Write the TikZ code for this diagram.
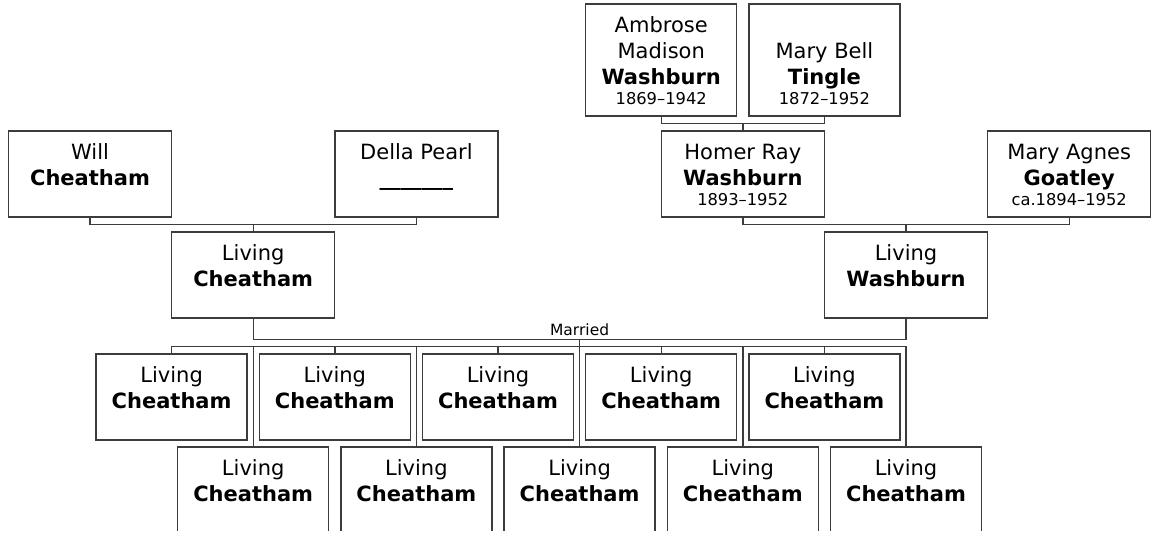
\documentclass[tikz,border=0pt]{standalone}
\usepackage{fontspec}
\setmainfont{DejaVu Sans}
\definecolor{linegray}{HTML}{3C3C3C}
\newcommand{\namefont}{\fontsize{21}{26}\selectfont}
\newcommand{\datefont}{\fontsize{16.3}{20}\selectfont}
\newcommand{\marriedfont}{\fontsize{15.5}{19}\selectfont}
\newcommand{\boxstrut}{\rule[-3pt]{0pt}{22pt}}
\newcommand{\surname}[1]{\boxstrut\textbf{#1}}
\newcommand{\lifespan}[1]{\boxstrut{\datefont #1}}

\begin{document}
\begin{tikzpicture}[x=1pt, y=-1pt, line width=1.4pt,
  person/.style={draw=linegray, fill=white, minimum width=163pt, minimum height=86pt,
    inner sep=0pt, align=center, font=\namefont},
  child/.style={person, minimum width=151pt},
  elder/.style={child, minimum height=112pt},
  link/.style={draw=linegray}]
  \useasboundingbox[fill=white] (0,0) rectangle (1154,533);
  \clip (0,0) rectangle (1154,530.5);

  % great-grandparents
  \node[elder] (ambrose) at (661.2,60) {\boxstrut Ambrose\\\boxstrut Madison\\\surname{Washburn}\\[-6pt]\lifespan{1869--1942}};
  \node[elder] (marybell) at (824.4,60) {\boxstrut\\\boxstrut Mary Bell\\\surname{Tingle}\\[-6pt]\lifespan{1872--1952}};

  % grandparents
  \node[person] (will) at (90,174) {\boxstrut Will\\\surname{Cheatham}\\[-6pt]\lifespan{}};
  \node[person] (della) at (416.4,174) {\boxstrut Della Pearl\\\surname{\_\_\_\_\_\_\_}\\[-6pt]\lifespan{}};
  \node[person] (homer) at (742.8,174) {\boxstrut Homer Ray\\\surname{Washburn}\\[-6pt]\lifespan{1893--1952}};
  \node[person] (agnes) at (1069.2,174) {\boxstrut Mary Agnes\\\surname{Goatley}\\[-6pt]\lifespan{ca.1894--1952}};

  % parents
  \node[person] (livc) at (253.2,275) {\boxstrut Living\\\surname{Cheatham}\\[-6pt]\lifespan{}};
  \node[person] (livw) at (906,275) {\boxstrut Living\\\surname{Washburn}\\[-6pt]\lifespan{}};

  % children
  \node[child] (child1) at (171.6,397) {\boxstrut Living\\\surname{Cheatham}\\[-6pt]\lifespan{}};
  \node[child] (child2) at (253.2,490) {\boxstrut Living\\\surname{Cheatham}\\[-6pt]\lifespan{}};
  \node[child] (child3) at (334.8,397) {\boxstrut Living\\\surname{Cheatham}\\[-6pt]\lifespan{}};
  \node[child] (child4) at (416.4,490) {\boxstrut Living\\\surname{Cheatham}\\[-6pt]\lifespan{}};
  \node[child] (child5) at (498,397) {\boxstrut Living\\\surname{Cheatham}\\[-6pt]\lifespan{}};
  \node[child] (child6) at (579.6,490) {\boxstrut Living\\\surname{Cheatham}\\[-6pt]\lifespan{}};
  \node[child] (child7) at (661.2,397) {\boxstrut Living\\\surname{Cheatham}\\[-6pt]\lifespan{}};
  \node[child] (child8) at (742.8,490) {\boxstrut Living\\\surname{Cheatham}\\[-6pt]\lifespan{}};
  \node[child] (child9) at (824.4,397) {\boxstrut Living\\\surname{Cheatham}\\[-6pt]\lifespan{}};
  \node[child] (child10) at (906,490) {\boxstrut Living\\\surname{Cheatham}\\[-6pt]\lifespan{}};

  % family links
  \draw[link] (ambrose.south) -- ++(0,7) coordinate (wbar) -| (marybell.south);
  \draw[link] (homer.north) -- (homer.north |- wbar);
  \draw[link] (will.south) -- ++(0,7) coordinate (cbar) -| (della.south);
  \draw[link] (livc.north) -- (livc.north |- cbar);
  \draw[link] (homer.south) -- ++(0,7) coordinate (gbar) -| (agnes.south);
  \draw[link] (livw.north) -- (livw.north |- gbar);
  \draw[link] (livc.south) -- ++(0,21) coordinate (mbar)
    -| node[pos=0.25, above=3pt, inner sep=0pt, font=\marriedfont] {Married} (livw.south);

  % children links
  \draw[link] (child1.north) -- ++(0,-7) coordinate (kbar) -| (child10.north);
  \draw[link] (child2.north) -- (child2.north |- kbar) (child3.north) -- (child3.north |- kbar)
    (child4.north) -- (child4.north |- kbar) (child5.north) -- (child5.north |- kbar)
    (child7.north) -- (child7.north |- kbar) (child8.north) -- (child8.north |- kbar)
    (child9.north) -- (child9.north |- kbar);
  \draw[link] (child6.north) -- (child6.north |- mbar);
\end{tikzpicture}
\end{document}
